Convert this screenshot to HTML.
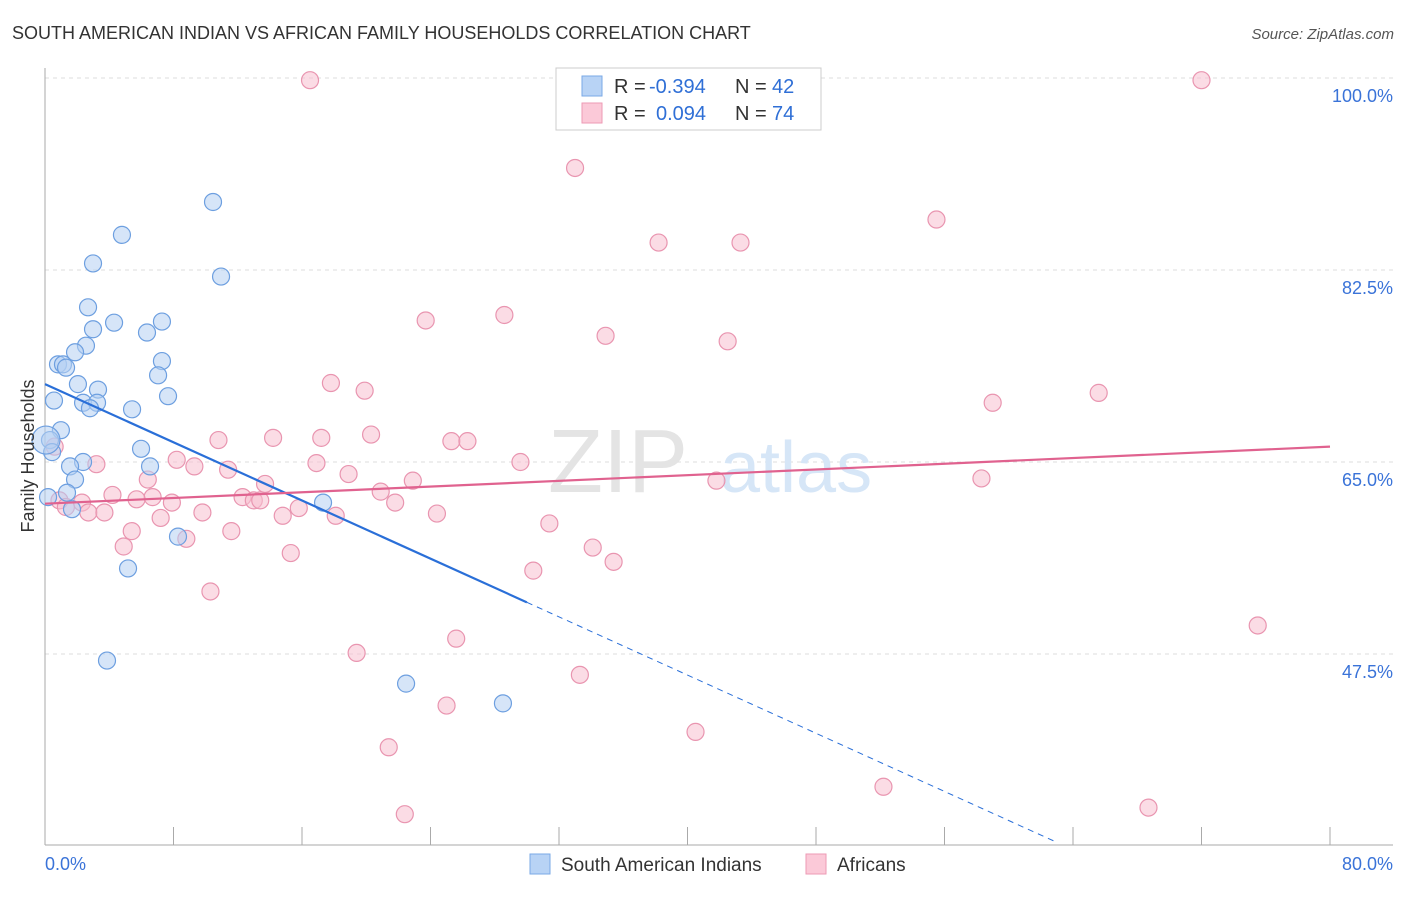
<!DOCTYPE html>
<html><head><meta charset="utf-8"><style>
body{margin:0;background:#fff;font-family:"Liberation Sans",sans-serif}
svg text{font-family:"Liberation Sans",sans-serif}
</style></head><body>
<svg width="1406" height="892" viewBox="0 0 1406 892">
<text x="12" y="39" font-size="18" fill="#333">SOUTH AMERICAN INDIAN VS AFRICAN FAMILY HOUSEHOLDS CORRELATION CHART</text>
<text x="1394" y="39" font-size="15" fill="#555" font-style="italic" text-anchor="end">Source: ZipAtlas.com</text>
<g id="grid"></g>
<text x="688" y="492" font-size="90" fill="#e4e4e4" font-family="Liberation Serif" text-anchor="end">ZIP</text>
<text x="720" y="492" font-size="72" fill="#d6e6f7">atlas</text>
<g id="pts"></g>
<g id="lines"></g>
<text x="34" y="456" font-size="18" fill="#333" text-anchor="middle" transform="rotate(-90 34 456)">Family Households</text>
<text x="45" y="870" font-size="18" fill="#3a73d8">0.0%</text>
<text x="1393" y="870" font-size="18" fill="#3a73d8" text-anchor="end">80.0%</text>
<g>
<rect x="556" y="68" width="265" height="62" fill="#fff" stroke="#ccc"/>
<rect x="582" y="76" width="20" height="20" fill="#b8d3f5" stroke="#7aa8e6"/>
<rect x="582" y="103" width="20" height="20" fill="#fbc9d8" stroke="#ee9ab4"/>
<text x="614" y="93" font-size="20" fill="#333">R =</text>
<text x="649" y="93" font-size="20" fill="#2f6fd6">-0.394</text>
<text x="735" y="93" font-size="20" fill="#333">N =</text>
<text x="772" y="93" font-size="20" fill="#2f6fd6">42</text>
<text x="614" y="120" font-size="20" fill="#333">R =</text>
<text x="656" y="120" font-size="20" fill="#2f6fd6">0.094</text>
<text x="735" y="120" font-size="20" fill="#333">N =</text>
<text x="772" y="120" font-size="20" fill="#2f6fd6">74</text>
</g>
<g>
<rect x="530" y="854" width="20" height="20" fill="#b8d3f5" stroke="#7aa8e6"/>
<text x="561" y="871" font-size="19" fill="#333">South American Indians</text>
<rect x="806" y="854" width="20" height="20" fill="#fbc9d8" stroke="#ee9ab4"/>
<text x="837" y="871" font-size="19" fill="#333">Africans</text>
</g>
</svg>
<script>
const yTicks=[100,82.5,65,47.5];
const yTickLabels=["100.0%","82.5%","65.0%","47.5%"];
const xTicks=[0,8,16,24,32,40,48,56,64,72,80];
const blueX=[10.46,4.79,2.99,10.96,2.68,4.30,2.99,6.35,7.28,2.55,1.87,0.81,1.12,1.31,7.28,7.04,2.05,3.30,0.56,7.66,2.37,3.24,2.80,5.42,0.99,0.31,0.44,5.98,2.37,1.56,6.54,1.87,0.19,1.37,1.68,17.31,8.28,5.17,3.86,22.48,28.51,0.06];
const blueY=[88.7,85.7,83.1,81.9,79.1,77.7,77.1,76.8,77.8,75.6,75.0,73.9,73.9,73.6,74.2,72.9,72.1,71.6,70.6,71.0,70.4,70.4,69.9,69.8,67.9,67.0,65.9,66.2,65.0,64.6,64.6,63.4,61.8,62.2,60.7,61.3,58.2,55.3,46.9,44.8,43.0,67.0];
const pinkX=[16.5,72.0,33.0,55.5,38.2,43.3,28.6,23.7,34.9,42.5,17.8,19.9,65.6,59.0,10.8,14.2,17.2,20.3,25.3,26.3,0.6,3.2,8.2,9.3,11.4,16.9,18.9,29.6,6.4,13.7,22.9,41.8,58.3,20.9,12.3,13.0,13.4,4.2,6.7,5.7,7.9,2.3,0.9,15.8,21.8,1.3,2.7,3.7,9.8,14.8,18.1,24.4,7.2,31.4,11.6,5.4,8.8,4.9,34.1,15.3,35.4,30.4,10.3,75.5,25.6,19.4,33.3,25.0,40.5,21.4,52.2,68.7,22.4];
const pinkY=[99.8,99.8,91.8,87.1,85.0,85.0,78.4,77.9,76.5,76.0,72.2,71.5,71.3,70.4,67.0,67.2,67.2,67.5,66.9,66.9,66.4,64.8,65.2,64.6,64.3,64.9,63.9,65.0,63.4,63.0,63.3,63.3,63.5,62.3,61.8,61.5,61.5,62.0,61.8,61.6,61.3,61.3,61.5,60.8,61.3,60.9,60.4,60.4,60.4,60.1,60.1,60.3,59.9,59.4,58.7,58.7,58.0,57.3,57.2,56.7,55.9,55.1,53.2,50.1,48.9,47.6,45.6,42.8,40.4,39.0,35.4,33.5,32.9];
const blueTrend=[72.1,-0.663];
const pinkTrend=[61.2,0.065];
const xs=v=>45+v/80*1285, ys=v=>78+(100-v)*192/17.5;
const NS="http://www.w3.org/2000/svg";
function mk(t,a,p){const e=document.createElementNS(NS,t);for(const k in a)e.setAttribute(k,a[k]);p.appendChild(e);return e;}
const g=document.getElementById('grid');
yTicks.forEach((t,i)=>{
 const l=mk('line',{x1:45,x2:1393,y1:ys(t),y2:ys(t),stroke:'#ddd','stroke-dasharray':'4,4'},g);
 
 
 const tx=mk('text',{x:1393,y:ys(t)+24,'font-size':18,fill:'#3a73d8','text-anchor':'end'},g);
 tx.textContent=yTickLabels[i];
 
 
});
const ax=mk('line',{x1:45,x2:45,y1:68,y2:845,stroke:'#aaa'},g);


const bx=mk('line',{x1:45,x2:1393,y1:845,y2:845,stroke:'#aaa'},g);


xTicks.forEach(t=>{const l=mk('line',{x1:xs(t),x2:xs(t),y1:827,y2:845,stroke:'#aaa'},g);
 
 });
const P=document.getElementById('pts');
function dots(X,Y,fill,stroke,name){X.forEach((x,i)=>{
 const r=(x<1.5&&i>=X.length-3)?14:8.5;
 const c=mk('circle',{cx:xs(x),cy:ys(Y[i]),r:r,fill:fill,'fill-opacity':0.55,stroke:stroke,'stroke-width':1.2},P);
 
 });}
dots(pinkX,pinkY,'#f8bfd0','#e995b0','african-point');
dots(blueX,blueY,'#b5d0f3','#6d9fe0','south-american-indian-point');
const L=document.getElementById('lines');
const bl=mk('line',{x1:xs(0),y1:ys(blueTrend[0]),x2:xs(30),y2:ys(blueTrend[0]+blueTrend[1]*30),stroke:'#2a6fd8','stroke-width':2.2},L);


const yEnd=30.4;
const x2=(yEnd-blueTrend[0])/blueTrend[1];
const bd=mk('line',{x1:xs(30),y1:ys(blueTrend[0]+blueTrend[1]*30),x2:xs(x2),y2:ys(yEnd),stroke:'#2a6fd8','stroke-width':1,'stroke-dasharray':'6,5'},L);


const pl=mk('line',{x1:xs(0),y1:ys(pinkTrend[0]),x2:xs(80),y2:ys(pinkTrend[0]+pinkTrend[1]*80),stroke:'#e0628f','stroke-width':2.2},L);


</script>
</body></html>
